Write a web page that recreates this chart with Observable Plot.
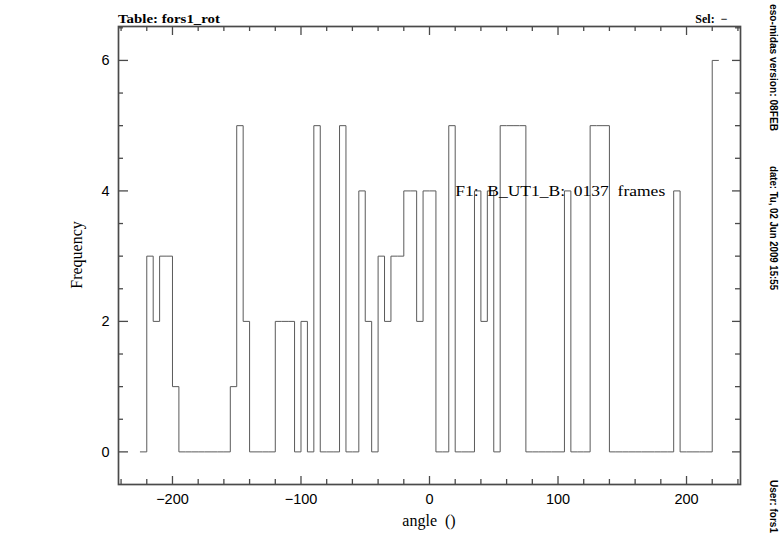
<!DOCTYPE html>
<html><head><meta charset="utf-8">
<script src="https://cdn.jsdelivr.net/npm/d3@7"></script>
<script src="https://cdn.jsdelivr.net/npm/@observablehq/plot@0.6"></script>
<style>
html,body{margin:0;padding:0;background:#fff;}
#chart{width:782px;height:542px;}
</style></head><body><div id="chart"></div>
<script>
// ---- data -------------------------------------------------------------
const firstBinEdge = -225;   // degrees
const binWidth = 5;          // degrees
// frequency per 5-degree bin, from -225 to +225 (90 bins, total 137 frames)
const frequency = [
  0,3,2,3,3,1,
  0,0,0,0,0,0,0,0,
  1,5,2,
  0,0,0,0,
  2,2,2,
  0,2,0,5,
  0,0,0,
  5,0,0,4,2,0,3,2,3,3,4,4,2,4,4,0,0,5,
  0,0,0,
  4,2,4,0,
  5,5,5,5,
  0,0,0,0,0,0,
  4,
  0,0,0,
  5,5,5,
  0,0,0,0,0,0,0,0,0,0,
  4,
  0,0,0,0,0,
  6
];
const xMajorTicks = [-200, -100, 0, 100, 200];
const xMinorTicks = [-240,-220,-180,-160,-140,-120,-80,-60,-40,-20,20,40,60,80,120,140,160,180,220,240];
const yMajorTicks = [0, 2, 4, 6];
const yMinorTicks = [0.5,1,1.5,2.5,3,3.5,4.5,5,5.5,6.5];
const xDomain = [-242, 242];
const yDomain = [-0.5, 6.52];
const annotation = {angle: 20, freq: 4, text: "F1:\u00a0 B_UT1_B:\u00a0 0137\u00a0 frames"};
const tableLabel = "Table: fors1_rot";
const selLabel = "Sel:\u00a0 \u2212";
const xTitle = "angle\u00a0 ()";
const yTitle = "Frequency";
const sideTexts = [
  {text: "eso-midas version: 08FEB", y: 4, len: 127},
  {text: "date: Tu, 02 Jun 2009 15:55", y: 166, len: 124},
  {text: "User: fors1", y: 480, len: 53}
];

// ---- build table ------------------------------------------------------
const hist = frequency.map((f, i) => ({angle: firstBinEdge + i * binWidth, freq: f}));
hist.push({angle: firstBinEdge + frequency.length * binWidth, freq: frequency[frequency.length - 1]});

// ---- layout -----------------------------------------------------------
const W = 782, H = 542;
const M = {top: 26, right: 42, bottom: 58, left: 118};
const plotH = H - M.top - M.bottom;
const plotW = W - M.left - M.right;
const serif = "'Liberation Serif', 'DejaVu Serif', serif";
const sans = "'Liberation Sans', Arial, sans-serif";
const axisColor = "#4a4a4a";
const intFmt = d3.format("d");

const chart = Plot.plot({
  width: W, height: H,
  marginTop: M.top, marginRight: M.right, marginBottom: M.bottom, marginLeft: M.left,
  style: {fontFamily: sans, fontSize: "14px", color: "#000", background: "#fff", overflow: "visible"},
  x: {domain: xDomain},
  y: {domain: yDomain},
  marks: [
    Plot.axisX(xMajorTicks, {anchor: "bottom", tickSize: 0, tickPadding: 9, fontSize: 14.5, label: null, tickFormat: intFmt}),
    Plot.axisY(yMajorTicks, {anchor: "left", tickSize: 0, tickPadding: 9, fontSize: 14.5, label: null, tickFormat: intFmt}),
    // bottom ticks (inward)
    Plot.ruleX(xMajorTicks, {insetTop: plotH - 8, stroke: axisColor, strokeWidth: 1.3}),
    Plot.ruleX(xMinorTicks, {insetTop: plotH - 5, stroke: axisColor, strokeWidth: 1.3}),
    // top ticks (inward)
    Plot.ruleX(xMajorTicks, {insetBottom: plotH - 9, stroke: axisColor, strokeWidth: 1.3}),
    Plot.ruleX(xMinorTicks, {insetBottom: plotH - 5, stroke: axisColor, strokeWidth: 1.3}),
    // left ticks
    Plot.ruleY(yMajorTicks, {insetRight: plotW - 10, stroke: axisColor, strokeWidth: 1.3}),
    Plot.ruleY(yMinorTicks, {insetRight: plotW - 5, stroke: axisColor, strokeWidth: 1.3}),
    // right ticks
    Plot.ruleY(yMajorTicks, {insetLeft: plotW - 8, stroke: axisColor, strokeWidth: 1.3}),
    Plot.ruleY(yMinorTicks, {insetLeft: plotW - 5, stroke: axisColor, strokeWidth: 1.3}),
    Plot.line(hist, {x: "angle", y: "freq", curve: "step-after", stroke: "#5a5a5a", strokeWidth: 1}),
    Plot.text([annotation], {x: "angle", y: "freq", text: "text", textAnchor: "start",
      fontFamily: serif, fontSize: 15, fill: "#000"}),
    Plot.frame({stroke: axisColor, strokeWidth: 1.7})
  ]
});
document.getElementById("chart").appendChild(chart);

// ---- decorations ------------------------------------------------------
const svg = d3.select(chart);
svg.selectAll('g[aria-label="text"] text').attr("textLength", 210).attr("lengthAdjust", "spacingAndGlyphs");

svg.append("text").attr("x", M.left).attr("y", 23).attr("text-anchor", "start")
  .attr("font-family", serif).attr("font-weight", "bold").attr("font-size", 12)
  .attr("textLength", 102).attr("lengthAdjust", "spacingAndGlyphs")
  .text(tableLabel);
svg.append("text").attr("x", 727.5).attr("y", 23).attr("text-anchor", "end")
  .attr("font-family", serif).attr("font-weight", "bold").attr("font-size", 12)
  .text(selLabel);
svg.append("text").attr("x", W - M.right - plotW / 2).attr("y", 526).attr("text-anchor", "middle")
  .attr("font-family", serif).attr("font-size", 16)
  .text(xTitle);
svg.append("text").attr("transform", `translate(82,${M.top + plotH / 2}) rotate(-90)`)
  .attr("text-anchor", "middle")
  .attr("font-family", serif).attr("font-size", 16)
  .text(yTitle);
for (const s of sideTexts) {
  svg.append("text").attr("transform", `translate(769.5,${s.y}) rotate(90)`)
    .attr("text-anchor", "start")
    .attr("font-family", sans).attr("font-weight", "bold").attr("font-size", 10)
    .attr("textLength", s.len).attr("lengthAdjust", "spacingAndGlyphs")
    .text(s.text);
}
</script>
</body></html>
